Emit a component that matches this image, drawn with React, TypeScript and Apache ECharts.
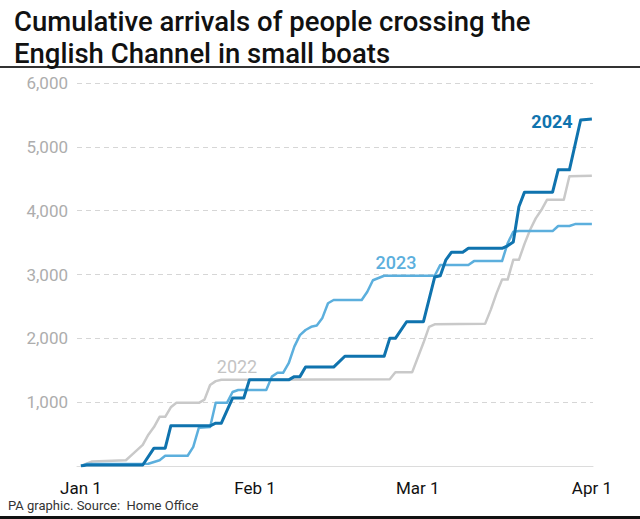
import React, { useEffect, useRef } from "react";
import * as echarts from "echarts";

// x = day of year (0 = Jan 1), y = cumulative arrivals
const tickDays = [0, 31, 60, 91];
const tickLabels = ["Jan 1", "Feb 1", "Mar 1", "Apr 1"];

const arrivals2022: [number, number][] = [
  [0, 0], [2, 70], [8, 90], [9, 170], [11, 330], [12, 490], [13, 610], [14, 770], [15, 770],
  [16, 920], [17, 990], [21, 990], [22, 1040], [23, 1270], [24, 1330], [25, 1350], [55, 1360],
  [56, 1470], [59, 1470], [61, 1930], [62, 2180], [63, 2220], [72, 2230], [73, 2450], [74, 2700],
  [75, 2920], [76, 2920], [77, 3230], [78, 3230], [79, 3480], [80, 3700], [81, 3880], [82, 4010],
  [83, 4170], [86, 4170], [87, 4540], [91, 4548],
];

const arrivals2023: [number, number][] = [
  [0, 0], [1, 30], [12, 35], [14, 90], [15, 160], [19, 160], [20, 300], [21, 600], [23, 610],
  [24, 990], [26, 990], [27, 1160], [28, 1190], [33, 1190], [34, 1400], [35, 1460], [36, 1460],
  [37, 1610], [38, 1870], [39, 2050], [40, 2130], [41, 2180], [42, 2200], [43, 2320], [44, 2550],
  [45, 2600], [50, 2600], [51, 2730], [52, 2910], [54, 2980], [63, 2980], [64, 3150], [69, 3150],
  [70, 3210], [75, 3210], [76, 3490], [77, 3670], [78, 3680], [84, 3680], [85, 3760], [87, 3760],
  [88, 3790], [91, 3793],
];

const arrivals2024: [number, number][] = [
  [0, 0], [1, 15], [11, 15], [13, 280], [15, 280], [16, 630], [23, 630], [24, 670], [25, 670],
  [27, 1065], [29, 1065], [30, 1350], [37, 1350], [38, 1400], [39, 1400], [40, 1550], [45, 1550],
  [47, 1720], [54, 1720], [55, 2000], [56, 2000], [58, 2260], [61, 2260], [63, 2960], [64, 2980],
  [65, 3230], [66, 3350], [68, 3350], [69, 3410], [75, 3410], [76, 3450], [77, 3510], [78, 4060],
  [79, 4290], [84, 4290], [85, 4640], [87, 4640], [89, 5420], [91, 5435],
];

const yearNames = ["2022", "2023", "2024"];
const yearColors = ["#c9c9c9", "#5cafdd", "#0f73ae"];

const FONT = "Roboto, 'Liberation Sans', Arial, sans-serif";

export default function App() {
  const ref = useRef<HTMLDivElement>(null);
  useEffect(() => {
    document.body.style.margin = "0";
    if (!ref.current) return;
    const chart = echarts.init(ref.current, undefined, { renderer: "svg" });
    const allData = [arrivals2022, arrivals2023, arrivals2024];
    chart.setOption({
      animation: false,
      backgroundColor: "#ffffff",
      textStyle: { fontFamily: FONT },
      title: {
        text: "Cumulative arrivals of people crossing the\nEnglish Channel in small boats",
        left: 9,
        top: 0,
        textStyle: {
          fontFamily: FONT,
          fontWeight: 500,
          fontSize: 27.5,
          lineHeight: 32,
          color: "#111111",
        },
      },
      grid: { left: 77, right: 47, top: 83, bottom: 53 },
      xAxis: {
        type: "value",
        min: -0.71,
        max: 91.2,
        axisLine: { show: true, lineStyle: { color: "#dcdcdc", width: 1 } },
        axisTick: { show: false },
        splitLine: { show: false },
        axisLabel: {
          customValues: tickDays,
          formatter: (v: number) => {
            const i = tickDays.indexOf(Math.round(v));
            return i >= 0 ? tickLabels[i] : "";
          },
          color: "#111111",
          fontSize: 17,
          fontFamily: FONT,
          margin: 13,
        },
      },
      yAxis: {
        type: "value",
        min: 0,
        max: 6000,
        interval: 1000,
        axisLine: { show: false },
        axisTick: { show: false },
        splitLine: { show: true, lineStyle: { color: "#d6d6d6", type: [5, 4], width: 1 } },
        axisLabel: {
          formatter: (v: number) => (v === 0 ? "" : v.toLocaleString("en-US")),
          color: "#adadad",
          fontSize: 17,
          fontFamily: FONT,
          margin: 9,
        },
      },
      series: allData.map((d, i) => ({
        name: yearNames[i],
        type: "line",
        data: d,
        showSymbol: false,
        silent: true,
        z: 2 + i,
        lineStyle: { color: yearColors[i], width: i === 2 ? 3 : 2.5, join: "round" },
      })),
      graphic: [
        { type: "line", shape: { x1: 0, y1: 67, x2: 640, y2: 67 }, style: { stroke: "#333333", lineWidth: 2 } },
        { type: "line", shape: { x1: 0, y1: 517.5, x2: 640, y2: 517.5 }, style: { stroke: "#111111", lineWidth: 3 } },
        {
          type: "text",
          x: 8,
          y: 505,
          style: {
            text: "PA graphic. Source:  Home Office",
            fill: "#333333",
            fontSize: 13,
            fontFamily: FONT,
            verticalAlign: "middle",
          },
        },
        {
          type: "text",
          x: 237,
          y: 366,
          style: { text: yearNames[0], fill: "#c4c4c4", fontSize: 18, fontFamily: FONT, align: "center", verticalAlign: "middle" },
        },
        {
          type: "text",
          x: 396,
          y: 262,
          style: { text: yearNames[1], fill: "#5cafdd", fontSize: 18, fontWeight: 500, fontFamily: FONT, align: "center", verticalAlign: "middle" },
        },
        {
          type: "text",
          x: 552,
          y: 121,
          style: { text: yearNames[2], fill: "#0f73ae", fontSize: 18, fontWeight: "bold", fontFamily: FONT, align: "center", verticalAlign: "middle" },
        },
      ],
    });
    return () => chart.dispose();
  }, []);
  return <div ref={ref} style={{ width: 640, height: 519 }} />;
}
